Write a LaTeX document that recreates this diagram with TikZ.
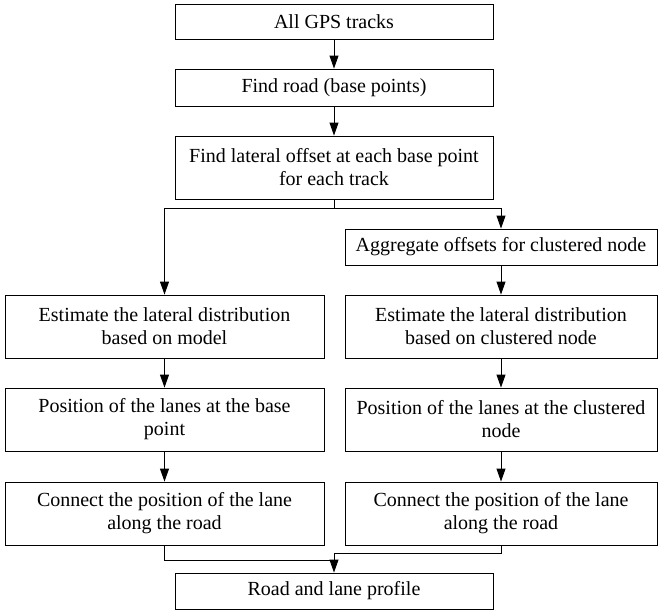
\documentclass[tikz,border=0pt]{standalone}
\usepackage{fontspec}
\setmainfont{Liberation Serif}
\usetikzlibrary{arrows.meta}
\begin{document}
\begin{tikzpicture}[x=1pt,y=-1pt,
 box/.style={draw,line width=0.9pt,align=center,inner sep=2pt,font=\fontsize{20}{23}\selectfont},
 wide/.style={minimum width=318pt},
 col/.style={minimum width=319pt},
 colr/.style={minimum width=312pt},
 arr/.style={-{Triangle[width=9pt,length=13pt]},line width=0.9pt},
 ln/.style={line width=0.9pt}]
\useasboundingbox (0,0) rectangle (658,614);
\node[box,wide,minimum height=35pt] (a) at (334,21.5) {All GPS tracks};
\node[box,wide,minimum height=37pt] (b) at (334,87.5) {Find road (base points)};
\node[box,wide,minimum height=63pt] (c) at (334,167.5) {Find lateral offset at each base point\\for each track};
\node[box,colr,minimum height=36pt] (agg) at (501,247) {Aggregate offsets for clustered node};
\node[box,col,minimum height=63pt] (estL) at (164.5,326.5) {Estimate the lateral distribution\\based on model};
\node[box,colr,minimum height=63pt] (estR) at (501,326.5) {Estimate the lateral distribution\\based on clustered node};
\node[box,col,minimum height=63pt] (posL) at (164.5,419.5) {Position of the lanes at the base\\point};
\node[box,colr,minimum height=63pt] (posR) at (501,419.5) {Position of the lanes at the clustered\\node};
\node[box,col,minimum height=63pt] (conL) at (164.5,513.5) {Connect the position of the lane\\along the road};
\node[box,colr,minimum height=63pt] (conR) at (501,513.5) {Connect the position of the lane\\along the road};
\node[box,wide,minimum height=36pt] (fin) at (334,591) {Road and lane profile};
\draw[arr] (a) -- (b);
\draw[arr] (b) -- (c);
\coordinate (j) at (334,208);
\draw[ln] (c.south) -- (j);
\draw[arr] (j) -| (estL.north);
\draw[arr] (j) -| (agg.north);
\draw[arr] (agg) -- (estR);
\draw[arr] (estL) -- (posL);
\draw[arr] (estR) -- (posR);
\draw[arr] (posL) -- (conL);
\draw[arr] (posR) -- (conR);
\coordinate (m1) at (334,553);
\coordinate (m2) at (334,560);
\draw[arr] (conR.south) |- (m1) -- (fin.north);
\draw[ln] (conL.south) |- (m2);
\end{tikzpicture}
\end{document}
